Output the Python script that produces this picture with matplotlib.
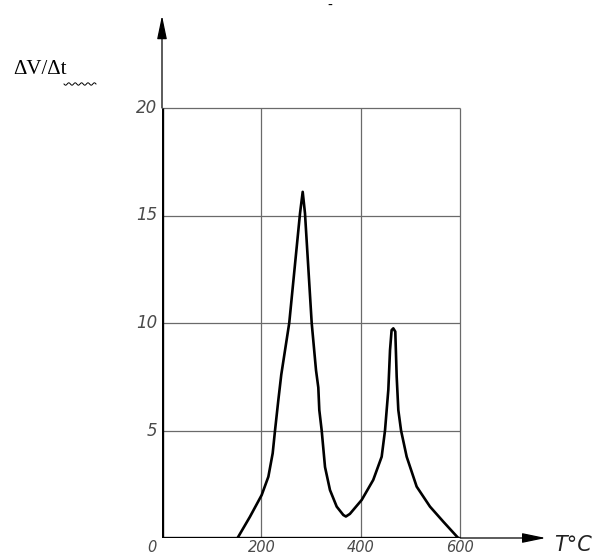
"""Differential dilatometry curve: dV/dt vs temperature, drafting style."""
import numpy as np
import matplotlib
matplotlib.use("Agg")
import matplotlib.pyplot as plt
from matplotlib.lines import Line2D

# curve (T in degC, dV/dt)
temp = [152, 177, 200.6, 214, 222.7, 227.4, 234, 240, 256, 277.7, 283.1,
        287.7, 301.2, 309.9, 314.5, 316.5, 321.3, 328, 338, 351.5, 364.8,
        370, 378, 401.8, 425, 442, 448.7, 455.4, 458.8, 462, 465.4, 469.4,
        472.2, 475.5, 481, 492.3, 512.4, 539.2, 566, 596]
rate = [0.0, 0.99, 2.0, 2.85, 3.94, 5.0, 6.4, 7.6, 10.0, 15.1, 16.1,
        15.1, 10.0, 7.8, 7.0, 5.95, 5.0, 3.3, 2.23, 1.46, 1.07,
        1.0, 1.12, 1.77, 2.7, 3.78, 5.0, 6.9, 8.74, 9.67, 9.75, 9.6,
        7.5, 5.95, 5.0, 3.78, 2.39, 1.46, 0.76, 0.0]
x_ticks = [0, 200, 400, 600]
y_ticks = [5, 10, 15, 20]
x_ticklabels = ["0", "200", "400", "600"]
y_ticklabels = ["5", "10", "15", "20"]

W, H = 592, 559
fig = plt.figure(figsize=(W / 100, H / 100), dpi=100)
x0, y0 = 162, 538          # pixel of origin
px_x, px_y = 0.497, 21.5   # pixels per unit
xmax, ymax = 780, 25
ax = fig.add_axes([x0 / W, (H - y0) / H, xmax * px_x / W, ymax * px_y / H])
ax.set_xlim(0, xmax)
ax.set_ylim(0, ymax)
ax.axis("off")

grid_c = "#6a6a6a"
ax.vlines(x_ticks[1:], 0, 20, color=grid_c, lw=0.9)
ax.hlines(y_ticks, 0, 600, color=grid_c, lw=0.9)

# axes: thick inside the grid, thin beyond with arrows
ax.plot([0, 0], [0, 20], color="black", lw=2.4, solid_capstyle="butt")
ax.plot([0, 600], [0, 0], color="black", lw=2.4, solid_capstyle="butt")
arrow = dict(arrowstyle="-|>,head_length=0.72,head_width=0.15",
             color="black", lw=0.9, mutation_scale=20, shrinkA=0, shrinkB=0)
ax.annotate("", xy=(0, 24.3), xytext=(0, 20), arrowprops=arrow)
ax.annotate("", xy=(772, 0), xytext=(600, 0), arrowprops=arrow)

ax.plot(temp, rate, color="black", lw=1.9, solid_joinstyle="round")

tick_c = "#4a4a4a"
for v, s in zip(y_ticks, y_ticklabels):
    ax.text(-10, v, s, ha="right", va="center", fontsize=12,
            style="italic", color=tick_c)
for v, s in zip(x_ticks, x_ticklabels):
    ax.text(v - (20 if v == 0 else 0), -0.45, s, ha="center", va="center",
            fontsize=10.5, style="italic", color=tick_c)

fig.text(13 / W, 1 - 70 / H, "ΔV/Δt", family="Liberation Serif",
         fontsize=15, va="center", ha="left")
# wavy underline under the second delta-t
wx = np.linspace(64, 96, 60)
wy = 84 + 1.2 * np.sin((wx - 64) / 32 * 2 * np.pi * 5)
fig.add_artist(Line2D(wx / W, 1 - wy / H, color="black", lw=0.7))

fig.text(554 / W, 1 - 545 / H, "T°C", fontsize=15, style="italic",
         va="center", ha="left", color="#222222")
fig.text(330 / W, 1 - 6 / H, "-", fontsize=10, ha="center", va="center")

fig.savefig("out.png", dpi=100)
